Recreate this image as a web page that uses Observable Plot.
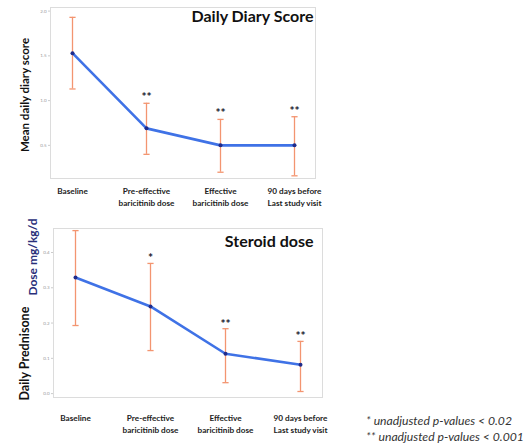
<!DOCTYPE html>
<html>
<head>
<meta charset="utf-8">
<script src="https://cdn.jsdelivr.net/npm/d3@7"></script>
<script src="https://cdn.jsdelivr.net/npm/@observablehq/plot@0.6"></script>
<style>
  html, body { margin: 0; padding: 0; background: #fff; }
  #page { position: relative; width: 532px; height: 444px; overflow: hidden; font-family: Lato, "Open Sans", sans-serif; }
  #top { position: absolute; left: 0; top: 0; }
  #bot { position: absolute; left: 0; top: 215px; }
  #note { position: absolute; left: 366px; top: 413px; font-size: 12.2px; font-style: italic; color: #333; line-height: 16px; white-space: nowrap; }
</style>
</head>
<body>
<div id="page">
  <div id="top"></div>
  <div id="bot"></div>
  <div id="note">* unadjusted p-values &lt; 0.02<br>** unadjusted p-values &lt; 0.001</div>
</div>
<script>
const categories = ["Baseline", "Pre-effective\nbaricitinib dose", "Effective\nbaricitinib dose", "90 days before\nLast study visit"];

const diaryMean = [1.53, 0.69, 0.50, 0.50];
const diaryLow  = [1.13, 0.40, 0.20, 0.16];
const diaryHigh = [1.93, 0.97, 0.79, 0.82];
const diarySig  = ["", "**", "**", "**"];
const diaryTicks = [0.5, 1.0, 1.5, 2.0];

const steroidMean = [0.329, 0.247, 0.113, 0.082];
const steroidLow  = [0.193, 0.122, 0.031, 0.006];
const steroidHigh = [0.462, 0.369, 0.184, 0.148];
const steroidSig  = ["", "*", "**", "**"];
const steroidTicks = [0.0, 0.1, 0.2, 0.3, 0.4];

const capSymbol = {
  draw(context, size) {
    const w = Math.sqrt(size) / 2;
    context.moveTo(-w, 0);
    context.lineTo(w, 0);
  }
};

function rows(mean, lo, hi, sig) {
  return categories.map((c, i) => ({cat: c, mean: mean[i], lo: lo[i], hi: hi[i], sig: sig[i]}));
}

const lineColor = "#3f72e6";
const dotColor = "#1f2c8c";
const errColor = "#f39570";

function chart(opts) {
  const data = rows(opts.mean, opts.lo, opts.hi, opts.sig);
  const marks = [
    Plot.frame({stroke: "#dcdcdc"}),
    Plot.axisY({ticks: opts.ticks, tickFormat: d3.format(".1f"), tickSize: 2, tickPadding: 2, fontSize: 4.5, fill: "#999", stroke: "#ccc", label: null}),
    Plot.axisX({tickSize: 0, tickPadding: opts.xPad, fontSize: 8.2, fontWeight: "bold", lineHeight: 1.45, fill: "#222", label: null}),
    Plot.ruleX(data, {x: "cat", y1: "lo", y2: "hi", stroke: errColor, strokeWidth: 1.3}),
    Plot.dot(data, {x: "cat", y: "lo", symbol: capSymbol, r: 3.5, stroke: errColor, strokeWidth: 1.3, fill: "none"}),
    Plot.dot(data, {x: "cat", y: "hi", symbol: capSymbol, r: 3.5, stroke: errColor, strokeWidth: 1.3, fill: "none"}),
    Plot.line(data, {x: "cat", y: "mean", stroke: lineColor, strokeWidth: 2.6}),
    Plot.dot(data, {x: "cat", y: "mean", r: 2, fill: dotColor}),
    Plot.text(data, {x: "cat", y: "hi", text: "sig", dy: opts.sigDy, fontSize: 12, fontWeight: "bold", fill: "#1a1a30"}),
    Plot.text([opts.title], {frameAnchor: "top-right", dx: opts.titleDx, dy: opts.titleDy, fontSize: 16, fontWeight: "bold", fill: "#111", textAnchor: "end"}),
    ...opts.labels
  ];
  return Plot.plot({
    width: 330,
    height: opts.height,
    marginTop: opts.mt,
    marginBottom: opts.mb,
    marginLeft: opts.ml,
    marginRight: opts.mr,
    style: {fontFamily: "Lato, 'Open Sans', sans-serif", background: "#fff", overflow: "visible"},
    x: {type: "point", domain: categories, padding: opts.xpadding, axis: null},
    y: {domain: opts.domain, axis: null},
    marks
  });
}

document.getElementById("top").appendChild(chart({
  mean: diaryMean, lo: diaryLow, hi: diaryHigh, sig: diarySig, ticks: diaryTicks,
  height: 210, mt: 7, mb: 32, ml: 50, mr: 15, xpadding: 0.27, domain: [0.13, 2.04],
  xPad: 7, sigDy: -6, title: "Daily Diary Score", titleDx: -2, titleDy: 3, 
  labels: [
    Plot.text(["Mean daily diary score"], {frameAnchor: "left", rotate: -90, textAnchor: "middle", dx: -25, dy: 2, fontSize: 11.5, fontWeight: "bold", fill: "#111"})
  ]
}));

document.getElementById("bot").appendChild(chart({
  mean: steroidMean, lo: steroidLow, hi: steroidHigh, sig: steroidSig, ticks: steroidTicks,
  height: 220, mt: 13, mb: 38, ml: 53, mr: 8, xpadding: 0.29, domain: [-0.011, 0.468],
  xPad: 15, sigDy: -5, title: "Steroid dose", titleDx: -9, titleDy: 7,
  labels: [
    Plot.text(["Daily Prednisone"], {frameAnchor: "bottom-left", rotate: -90, textAnchor: "start", dx: -25, dy: 3, fontSize: 12.5, fontWeight: "bold", fill: "#111"}),
    Plot.text(["Dose mg/kg/d"], {frameAnchor: "top-left", rotate: -90, textAnchor: "end", dx: -25, dy: -10, fontSize: 12, fontWeight: "bold", fill: "#2a2f7a"})
  ]
}));
</script>
</body>
</html>
